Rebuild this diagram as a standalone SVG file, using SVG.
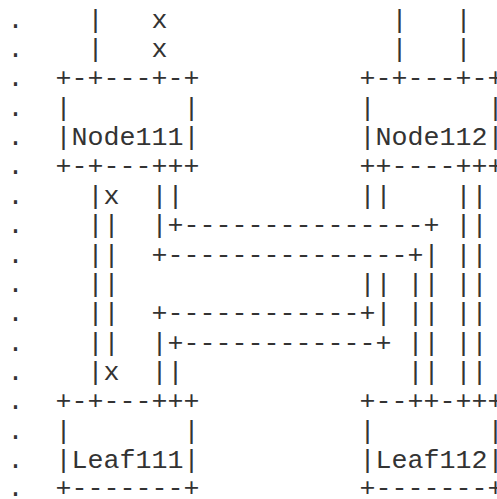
<svg xmlns="http://www.w3.org/2000/svg" width="497" height="499" viewBox="0 0 497 499" xml:space="preserve">
  <style>
    text { font-family: "Liberation Mono", "DejaVu Sans Mono", monospace; font-size: 26.67px; fill: #333; white-space: pre; }
  </style>
  <rect width="497" height="499" fill="#ffffff"/>

  <!-- left margin dots, one per row (grid: col n starts at 7.5 + 16n, row r baseline at 27.6 + 29.36(r-1)) -->
  <g id="margin">
    <text x="7.5" y="27.6">.</text>
    <text x="7.5" y="57.0">.</text>
    <text x="7.5" y="86.3">.</text>
    <text x="7.5" y="115.7">.</text>
    <text x="7.5" y="145.0">.</text>
    <text x="7.5" y="174.4">.</text>
    <text x="7.5" y="203.8">.</text>
    <text x="7.5" y="233.1">.</text>
    <text x="7.5" y="262.5">.</text>
    <text x="7.5" y="291.8">.</text>
    <text x="7.5" y="321.2">.</text>
    <text x="7.5" y="350.6">.</text>
    <text x="7.5" y="379.9">.</text>
    <text x="7.5" y="409.3">.</text>
    <text x="7.5" y="438.6">.</text>
    <text x="7.5" y="468.0">.</text>
    <text x="7.5" y="496.0">.</text>
  </g>

  <!-- boxes -->
  <g id="node111">
    <text x="55.5" y="86.3">+-+---+-+</text>
    <text x="55.5" y="115.7">|       |</text>
    <text x="55.5" y="145.0">|Node111|</text>
    <text x="55.5" y="174.4">+-+---+++</text>
  </g>
  <g id="node112">
    <text x="359.5" y="86.3">+-+---+-+</text>
    <text x="359.5" y="115.7">|       |</text>
    <text x="359.5" y="145.0">|Node112|</text>
    <text x="359.5" y="174.4">++----+++</text>
  </g>
  <g id="leaf111">
    <text x="55.5" y="409.3">+-+---+++</text>
    <text x="55.5" y="438.6">|       |</text>
    <text x="55.5" y="468.0">|Leaf111|</text>
    <text x="55.5" y="496.0">+-------+</text>
  </g>
  <g id="leaf112">
    <text x="359.5" y="409.3">+--++-+++</text>
    <text x="359.5" y="438.6">|       |</text>
    <text x="359.5" y="468.0">|Leaf112|</text>
    <text x="359.5" y="496.0">+-------+</text>
  </g>

  <!-- links between the boxes -->
  <g id="connectors">
    <text x="87.5" y="27.6">|   x</text>
    <text x="87.5" y="57.0">|   x</text>
    <text x="391.5" y="27.6">|   |</text>
    <text x="391.5" y="57.0">|   |</text>

    <text x="87.5" y="203.8">|x  ||</text>
    <text x="359.5" y="203.8">||    ||</text>
    <text x="87.5" y="233.1">||  |+---------------+ ||</text>
    <text x="87.5" y="262.5">||  +---------------+| ||</text>
    <text x="87.5" y="291.8">||</text>
    <text x="359.5" y="291.8">|| || ||</text>
    <text x="87.5" y="321.2">||  +------------+| || ||</text>
    <text x="87.5" y="350.6">||  |+------------+ || ||</text>
    <text x="87.5" y="379.9">|x  ||</text>
    <text x="407.5" y="379.9">|| ||</text>
  </g>
</svg>
